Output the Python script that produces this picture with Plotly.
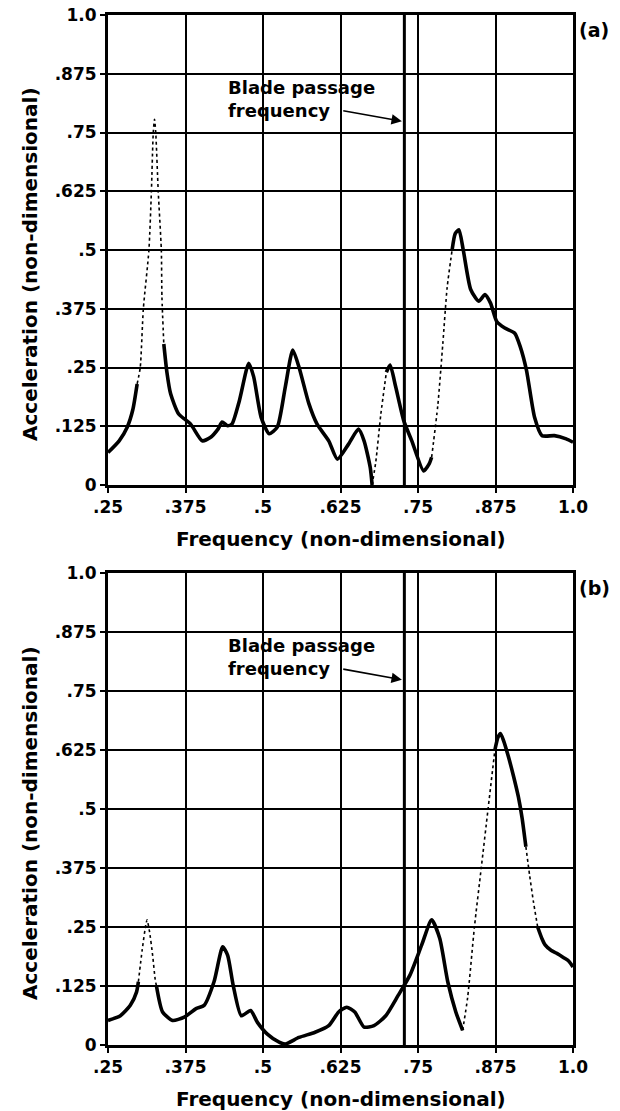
import plotly.graph_objects as go

# ---------------- data ----------------
freq_a = [0.250, 0.268, 0.281, 0.290, 0.297, 0.302, 0.307, 0.316, 0.320, 0.323, 0.325,
          0.327, 0.331, 0.336, 0.337, 0.340, 0.345, 0.351, 0.364, 0.383, 0.402, 0.415,
          0.428, 0.434, 0.443, 0.450, 0.462, 0.477, 0.485, 0.497, 0.510, 0.523, 0.536,
          0.548, 0.558, 0.574, 0.587, 0.606, 0.620, 0.638, 0.654, 0.663, 0.673, 0.676,
          0.682, 0.690, 0.699, 0.705, 0.714, 0.727, 0.740, 0.759, 0.768, 0.772, 0.782,
          0.790, 0.797, 0.805, 0.810, 0.816, 0.823, 0.835, 0.848, 0.858, 0.867, 0.877,
          0.890, 0.906, 0.915, 0.925, 0.938, 0.950, 0.970, 0.989, 1.000]
acc_a = [0.069, 0.094, 0.123, 0.160, 0.215, 0.250, 0.375, 0.500, 0.625, 0.750, 0.778,
         0.750, 0.625, 0.500, 0.400, 0.300, 0.240, 0.194, 0.151, 0.130, 0.094, 0.101,
         0.120, 0.134, 0.126, 0.130, 0.180, 0.259, 0.230, 0.144, 0.109, 0.123, 0.209,
         0.287, 0.251, 0.173, 0.130, 0.094, 0.055, 0.087, 0.119, 0.094, 0.037, 0.000,
         0.050, 0.150, 0.240, 0.255, 0.209, 0.137, 0.094, 0.030, 0.045, 0.059, 0.170,
         0.300, 0.420, 0.500, 0.535, 0.543, 0.500, 0.416, 0.391, 0.405, 0.387, 0.348,
         0.334, 0.323, 0.294, 0.244, 0.144, 0.105, 0.105, 0.098, 0.091]
dotted_a = [(0.297, 0.340), (0.676, 0.699), (0.772, 0.805)]

freq_b = [0.250, 0.270, 0.286, 0.296, 0.299, 0.305, 0.311, 0.313, 0.317, 0.322, 0.326,
          0.328, 0.338, 0.354, 0.373, 0.392, 0.405, 0.421, 0.435, 0.443, 0.452, 0.465,
          0.480, 0.491, 0.507, 0.526, 0.536, 0.558, 0.584, 0.606, 0.622, 0.635, 0.648,
          0.663, 0.679, 0.698, 0.718, 0.737, 0.756, 0.772, 0.785, 0.798, 0.811, 0.822,
          0.830, 0.841, 0.852, 0.863, 0.874, 0.879, 0.883, 0.888, 0.896, 0.904, 0.912,
          0.918, 0.924, 0.930, 0.936, 0.943, 0.950, 0.955, 0.965, 0.974, 0.985, 0.993,
          1.000]
acc_b = [0.052, 0.062, 0.084, 0.112, 0.134, 0.200, 0.255, 0.265, 0.240, 0.190, 0.140,
         0.126, 0.070, 0.052, 0.059, 0.077, 0.084, 0.134, 0.208, 0.190, 0.126, 0.062,
         0.073, 0.048, 0.023, 0.006, 0.002, 0.016, 0.027, 0.041, 0.070, 0.080, 0.070,
         0.038, 0.041, 0.062, 0.105, 0.148, 0.212, 0.265, 0.226, 0.134, 0.070, 0.031,
         0.100, 0.250, 0.375, 0.500, 0.625, 0.652, 0.660, 0.645, 0.610, 0.570, 0.525,
         0.480, 0.420, 0.360, 0.305, 0.250, 0.225, 0.212, 0.200, 0.194, 0.185, 0.178,
         0.165]
dotted_b = [(0.299, 0.327), (0.822, 0.876), (0.924, 0.943)]

blade_freq = 0.728

freq_ticks = [0.25, 0.375, 0.5, 0.625, 0.75, 0.875, 1.0]
freq_labels = [".25", ".375", ".5", ".625", ".75", ".875", "1.0"]
acc_ticks = [0, 0.125, 0.25, 0.375, 0.5, 0.625, 0.75, 0.875, 1.0]
acc_labels = ["0", ".125", ".25", ".375", ".5", ".625", ".75", ".875", "1.0"]

x_title = "Frequency (non-dimensional)"
y_title = "Acceleration (non-dimensional)"
blade_text = "Blade passage<br>frequency"
panel_labels = ["(a)", "(b)"]

# ---------------- figure ----------------
FONT = "DejaVu Sans"
W, H = 620, 1111
ML, MR, MT, MB = 108, 47, 15, 66
PW, PH = W - ML - MR, H - MT - MB


def fx(px):
    return (px - ML) / PW


def fy(py):
    return (H - MB - py) / PH


fig = go.Figure()


def segments(xs, ys, dotted):
    segs = []
    cur = None
    for i in range(len(xs) - 1):
        mid = 0.5 * (xs[i] + xs[i + 1])
        is_dot = any(a <= mid <= b for a, b in dotted)
        if cur is None or cur[0] != is_dot:
            if cur is not None:
                segs.append(cur)
            cur = [is_dot, [xs[i]], [ys[i]]]
        cur[1].append(xs[i + 1])
        cur[2].append(ys[i + 1])
    if cur is not None:
        segs.append(cur)
    return segs


def add_curve(xs, ys, dotted, xa, ya):
    for is_dot, sx, sy in segments(xs, ys, dotted):
        if is_dot:
            line = dict(color="black", width=1.6, dash="3px,3px", shape="spline", smoothing=0.6)
        else:
            line = dict(color="black", width=3.6, shape="spline", smoothing=0.6)
        fig.add_trace(go.Scatter(x=sx, y=sy, mode="lines", line=line,
                                 xaxis=xa, yaxis=ya, showlegend=False, hoverinfo="skip"))
    fig.add_trace(go.Scatter(x=[blade_freq, blade_freq], y=[0, 1], mode="lines",
                             line=dict(color="black", width=3), xaxis=xa, yaxis=ya,
                             showlegend=False, hoverinfo="skip"))


add_curve(freq_a, acc_a, dotted_a, "x", "y")
add_curve(freq_b, acc_b, dotted_b, "x2", "y2")

top_dom = [fy(485), 1.0]
bot_dom = [0.0, fy(573)]

axis_common = dict(showgrid=True, gridcolor="black", gridwidth=1.8, zeroline=False,
                   showline=True, linecolor="black", linewidth=3, mirror=True,
                   ticks="outside", ticklen=5, tickwidth=2, tickcolor="black",
                   automargin=False,
                   tickfont=dict(family=FONT, size=17, color="black", weight="bold"))

fig.update_layout(
    width=W, height=H,
    margin=dict(l=ML, r=MR, t=MT, b=MB, autoexpand=False),
    paper_bgcolor="white", plot_bgcolor="white",
    xaxis=dict(domain=[0, 1], anchor="y", range=[0.25, 1.0], tickvals=freq_ticks,
               ticktext=freq_labels, **axis_common),
    yaxis=dict(domain=top_dom, anchor="x", range=[0, 1.0], tickvals=acc_ticks,
               ticktext=acc_labels, **axis_common),
    xaxis2=dict(domain=[0, 1], anchor="y2", range=[0.25, 1.0], tickvals=freq_ticks,
                ticktext=freq_labels, **axis_common),
    yaxis2=dict(domain=bot_dom, anchor="x2", range=[0, 1.0], tickvals=acc_ticks,
                ticktext=acc_labels, **axis_common),
)

tfont = dict(family=FONT, size=20, color="black", weight="bold")
annos = []
for i, (xr, yr, top_px, bot_px) in enumerate([("x", "y", 15, 485), ("x2", "y2", 573, 1045)]):
    # x title
    annos.append(dict(text=x_title, xref="paper", yref="paper", x=0.5, y=fy(bot_px + 54),
                      xanchor="center", yanchor="middle", showarrow=False, font=tfont))
    # y title
    annos.append(dict(text=y_title, xref="paper", yref="paper", x=fx(30),
                      y=fy((top_px + bot_px) / 2 + 14), textangle=-90, xanchor="center",
                      yanchor="middle", showarrow=False, font=tfont))
    # panel label
    annos.append(dict(text=panel_labels[i], xref="paper", yref="paper", x=fx(577),
                      y=fy(top_px + 15), xanchor="left", yanchor="middle",
                      showarrow=False, font=dict(family=FONT, size=19, color="black", weight="bold")))
    # blade passage text
    annos.append(dict(text=blade_text, xref=xr, yref=yr, x=0.440, y=0.821, xanchor="left",
                      yanchor="middle", align="left", showarrow=False,
                      font=dict(family=FONT, size=18, color="black", weight="bold")))
    # arrow
    annos.append(dict(text="", xref=xr, yref=yr, x=blade_freq - 0.004, y=0.774,
                      axref=xr, ayref=yr, ax=0.627, ay=0.797, showarrow=True,
                      arrowhead=2, arrowsize=1.3, arrowwidth=1.6, arrowcolor="black"))

fig.update_layout(annotations=annos)

fig.write_html("out.html", config={"displayModeBar": False},
               post_script="document.body.style.margin='0px';")
